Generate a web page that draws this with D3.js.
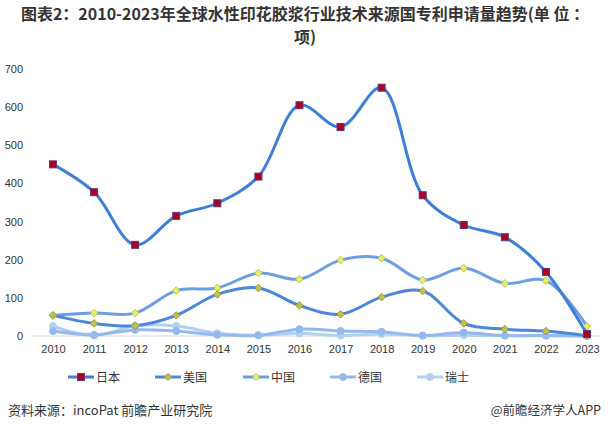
<!DOCTYPE html>
<html><head><meta charset="utf-8">
<script src="https://cdn.jsdelivr.net/npm/d3@7"></script>
<style>body{margin:0;background:#fff;}svg{display:block;font-family:"Noto Sans CJK SC","Liberation Sans",sans-serif;}</style>
</head><body>
<svg id="c" width="608" height="434"></svg>
<script>
const years = ["2010","2011","2012","2013","2014","2015","2016","2017","2018","2019","2020","2021","2022","2023"];
const yTicks = [0,100,200,300,400,500,600,700];
const japan = [450,377,239,315,348,418,605,548,651,369,291,259,168,5];
const usa = [54,33,27,54,109,126,80,57,102,118,33,18,13,1];
const china = [54,60,60,119,126,165,149,199,204,147,178,138,145,26];
const germany = [13,3,16,13,3,2,18,13,11,1,9,1,1,0];
const swiss = [26,1,27,26,7,2,7,1,5,1,2,1,1,0];
const seriesNames = ["日本","美国","中国","德国","瑞士"];
const titleLine1 = "图表2：2010-2023年全球水性印花胶浆行业技术来源国专利申请量趋势(单 位 ：";
const titleLine2 = "项)";
const sourceText = "资料来源：incoPat 前瞻产业研究院";
const brandText = "@前瞻经济学人APP";

const svg = d3.select("#c");
const x = d3.scalePoint().domain(years).range([53,587]);
const y = d3.scaleLinear().domain([0,700]).range([336,69]);

// title
svg.append("text").attr("x",305).attr("y",20).attr("text-anchor","middle")
  .attr("font-size",16).attr("font-weight","bold").attr("fill","#333").text(titleLine1);
svg.append("text").attr("x",305).attr("y",43).attr("text-anchor","middle")
  .attr("font-size",16).attr("font-weight","bold").attr("fill","#333").text(titleLine2);

// y axis labels
const ya = svg.append("g").attr("transform","translate(23,0)")
  .call(d3.axisLeft(y).tickValues(yTicks).tickSize(0).tickPadding(0));
ya.select(".domain").remove();
ya.selectAll("text").attr("font-size",11).attr("fill","#333").attr("font-family","Liberation Sans, Arial, sans-serif");

// baseline
svg.append("line").attr("x1",33).attr("x2",600).attr("y1",y(0)).attr("y2",y(0)).attr("stroke","#d9d9d9").attr("stroke-width",1);

// x axis labels
const xa = svg.append("g").attr("transform","translate(0,343)")
  .call(d3.axisBottom(x).tickSize(0).tickPadding(0));
xa.select(".domain").remove();
xa.selectAll("text").attr("font-size",11).attr("fill","#333").attr("dy","0.9em").attr("font-family","Liberation Sans, Arial, sans-serif");

const series = [
  {name:seriesNames[4], data:swiss, color:"#b3cff2", w:3, marker:"circle", mfill:"#b3cff2", mstroke:"#b3cff2", ms:3.5},
  {name:seriesNames[3], data:germany, color:"#94b9ec", w:3, marker:"circle", mfill:"#94b9ec", mstroke:"#94b9ec", ms:3.5},
  {name:seriesNames[2], data:china, color:"#6c9ee3", w:3, marker:"diamond", mfill:"#e6f06a", mstroke:"#a8b840", ms:3.8},
  {name:seriesNames[1], data:usa, color:"#4a86db", w:3, marker:"diamond", mfill:"#c2c24a", mstroke:"#8a8a30", ms:3.8},
  {name:seriesNames[0], data:japan, color:"#3d7ed8", w:3, marker:"square", mfill:"#b0001e", mstroke:"#5a3a7a", ms:3.5}
];

const line = d3.line().x((d,i)=>x(years[i])).y(d=>y(d)).curve(d3.curveCatmullRom.alpha(0.5));

function drawMarker(g, type, cx, cy, s, fill, stroke){
  if(type==="square"){
    g.append("rect").attr("x",cx-s).attr("y",cy-s).attr("width",2*s).attr("height",2*s)
      .attr("fill",fill).attr("stroke",stroke).attr("stroke-width",1);
  } else if(type==="diamond"){
    g.append("path").attr("d",`M${cx},${cy-s}L${cx+s},${cy}L${cx},${cy+s}L${cx-s},${cy}Z`)
      .attr("fill",fill).attr("stroke",stroke).attr("stroke-width",0.8);
  } else {
    g.append("circle").attr("cx",cx).attr("cy",cy).attr("r",s).attr("fill",fill).attr("stroke",stroke);
  }
}

series.forEach(s=>{
  svg.append("path").datum(s.data).attr("d",line).attr("fill","none")
    .attr("stroke",s.color).attr("stroke-width",s.w).attr("stroke-linecap","round");
});
series.forEach(s=>{
  const g = svg.append("g");
  s.data.forEach((d,i)=>drawMarker(g,s.marker,x(years[i]),y(d),s.ms,s.mfill,s.mstroke));
});

// legend
const legendX = [68,155,243,330,417];
const order = [4,3,2,1,0];
order.forEach((si,k)=>{
  const s = series[si];
  const lx = legendX[k], ly = 377;
  svg.append("line").attr("x1",lx).attr("x2",lx+26).attr("y1",ly).attr("y2",ly).attr("stroke",s.color).attr("stroke-width",3);
  drawMarker(svg.append("g"), s.marker, lx+13, ly, 3.5, s.mfill, s.mstroke);
  svg.append("text").attr("x",lx+28).attr("y",ly+4.5).attr("font-size",12).attr("fill","#333").text(s.name);
});

// footer
svg.append("text").attr("x",8).attr("y",415).attr("font-size",13).attr("fill","#333").text(sourceText);
svg.append("text").attr("x",601).attr("y",415).attr("text-anchor","end").attr("font-size",12.5).attr("fill","#333").text(brandText);
</script>
</body></html>
